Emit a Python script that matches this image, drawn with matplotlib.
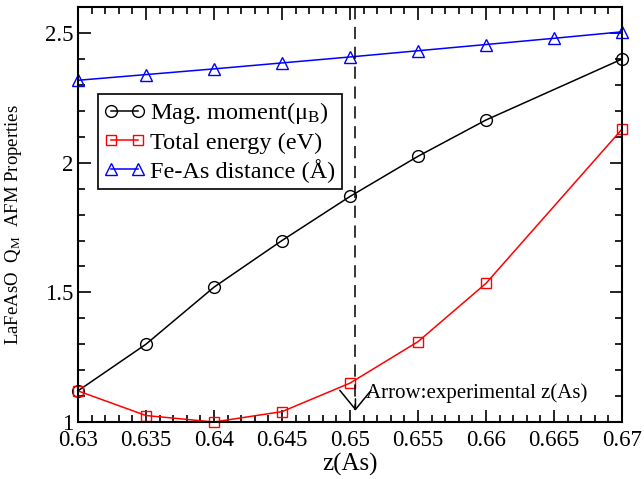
import numpy as np
import matplotlib
matplotlib.use("Agg")
import matplotlib.pyplot as plt
from matplotlib.ticker import MultipleLocator

plt.rcParams["font.family"] = ["Liberation Serif", "DejaVu Serif"]
plt.rcParams["mathtext.fontset"] = "stix"

# z(As) positions
z_mag = [0.63, 0.635, 0.64, 0.645, 0.65, 0.655, 0.66, 0.67]
mag_moment = [1.12, 1.30, 1.52, 1.70, 1.87, 2.025, 2.165, 2.40]

z_energy = [0.63, 0.635, 0.64, 0.645, 0.65, 0.655, 0.66, 0.67]
total_energy = [1.12, 1.025, 1.00, 1.04, 1.15, 1.31, 1.535, 2.13]

z_dist = [0.63, 0.635, 0.64, 0.645, 0.65, 0.655, 0.66, 0.665, 0.67]
fe_as_dist = [2.318, 2.34, 2.362, 2.385, 2.408, 2.432, 2.456, 2.48, 2.505]

z_exp = 0.6504

fig = plt.figure(figsize=(6.44, 4.79), dpi=100)
ax = fig.add_axes([0.121, 0.119, 0.845, 0.866])

ax.plot(z_mag, mag_moment, "k-", marker="o", mfc="none", mec="k", ms=8.5,
        lw=1.1, clip_on=False, label=r"Mag. moment($\mathregular{\mu_B}$)")
ax.plot(z_energy, total_energy, "r-", marker="s", mfc="none", mec="r", ms=7.5,
        lw=1.1, clip_on=False, label="Total energy (eV)")
ax.plot(z_dist, fe_as_dist, "b-", marker="^", mfc="none", mec="b", ms=8.5,
        lw=1.1, clip_on=False, label="Fe-As distance (Å)")

# dashed arrow marking the experimental z(As)
ax.plot([z_exp, z_exp], [2.6, 1.045], "k--", lw=1.1, dashes=(8, 5))
ax.annotate("", xy=(z_exp, 1.033), xytext=(z_exp, 1.1),
            arrowprops=dict(arrowstyle="->,head_length=0.55,head_width=0.45",
                            color="k", lw=1.1, mutation_scale=25))
ax.text(0.6512, 1.11, "Arrow:experimental z(As)", fontsize=15,
        va="center", ha="left")

ax.set_xlim(0.63, 0.67)
ax.set_ylim(1, 2.6)
ax.xaxis.set_minor_locator(MultipleLocator(0.001))
ax.yaxis.set_minor_locator(MultipleLocator(0.1))
ax.set_xticks([0.63, 0.635, 0.64, 0.645, 0.65, 0.655, 0.66, 0.665, 0.67])
ax.set_xticklabels(["0.63", "0.635", "0.64", "0.645", "0.65", "0.655",
                    "0.66", "0.665", "0.67"])
ax.set_yticks([1, 1.5, 2, 2.5])
ax.set_yticklabels(["1", "1.5", "2", "2.5"])
ax.tick_params(which="both", direction="in", top=True, right=True,
               labelsize=16.5, width=1.2)
ax.tick_params(which="major", length=9)
ax.tick_params(axis="x", which="major", pad=6)
ax.tick_params(which="minor", length=5)
for s in ax.spines.values():
    s.set_linewidth(1.5)

ax.set_xlabel("z(As)", fontsize=18, labelpad=1)
ax.set_ylabel(r"LaFeAsO  Q$_\mathregular{M}$  AFM Properties", fontsize=13.5)
ax.yaxis.set_label_coords(-0.1, 0.475)

leg = ax.legend(loc="upper left", bbox_to_anchor=(0.037, 0.79), fontsize=17.5,
                numpoints=2, handlelength=1.7, handletextpad=0.2,
                borderpad=0.25, labelspacing=0.22, fancybox=False,
                framealpha=1, edgecolor="k", borderaxespad=0)
leg.get_frame().set_linewidth(1.2)

fig.savefig("out.png", dpi=100)
